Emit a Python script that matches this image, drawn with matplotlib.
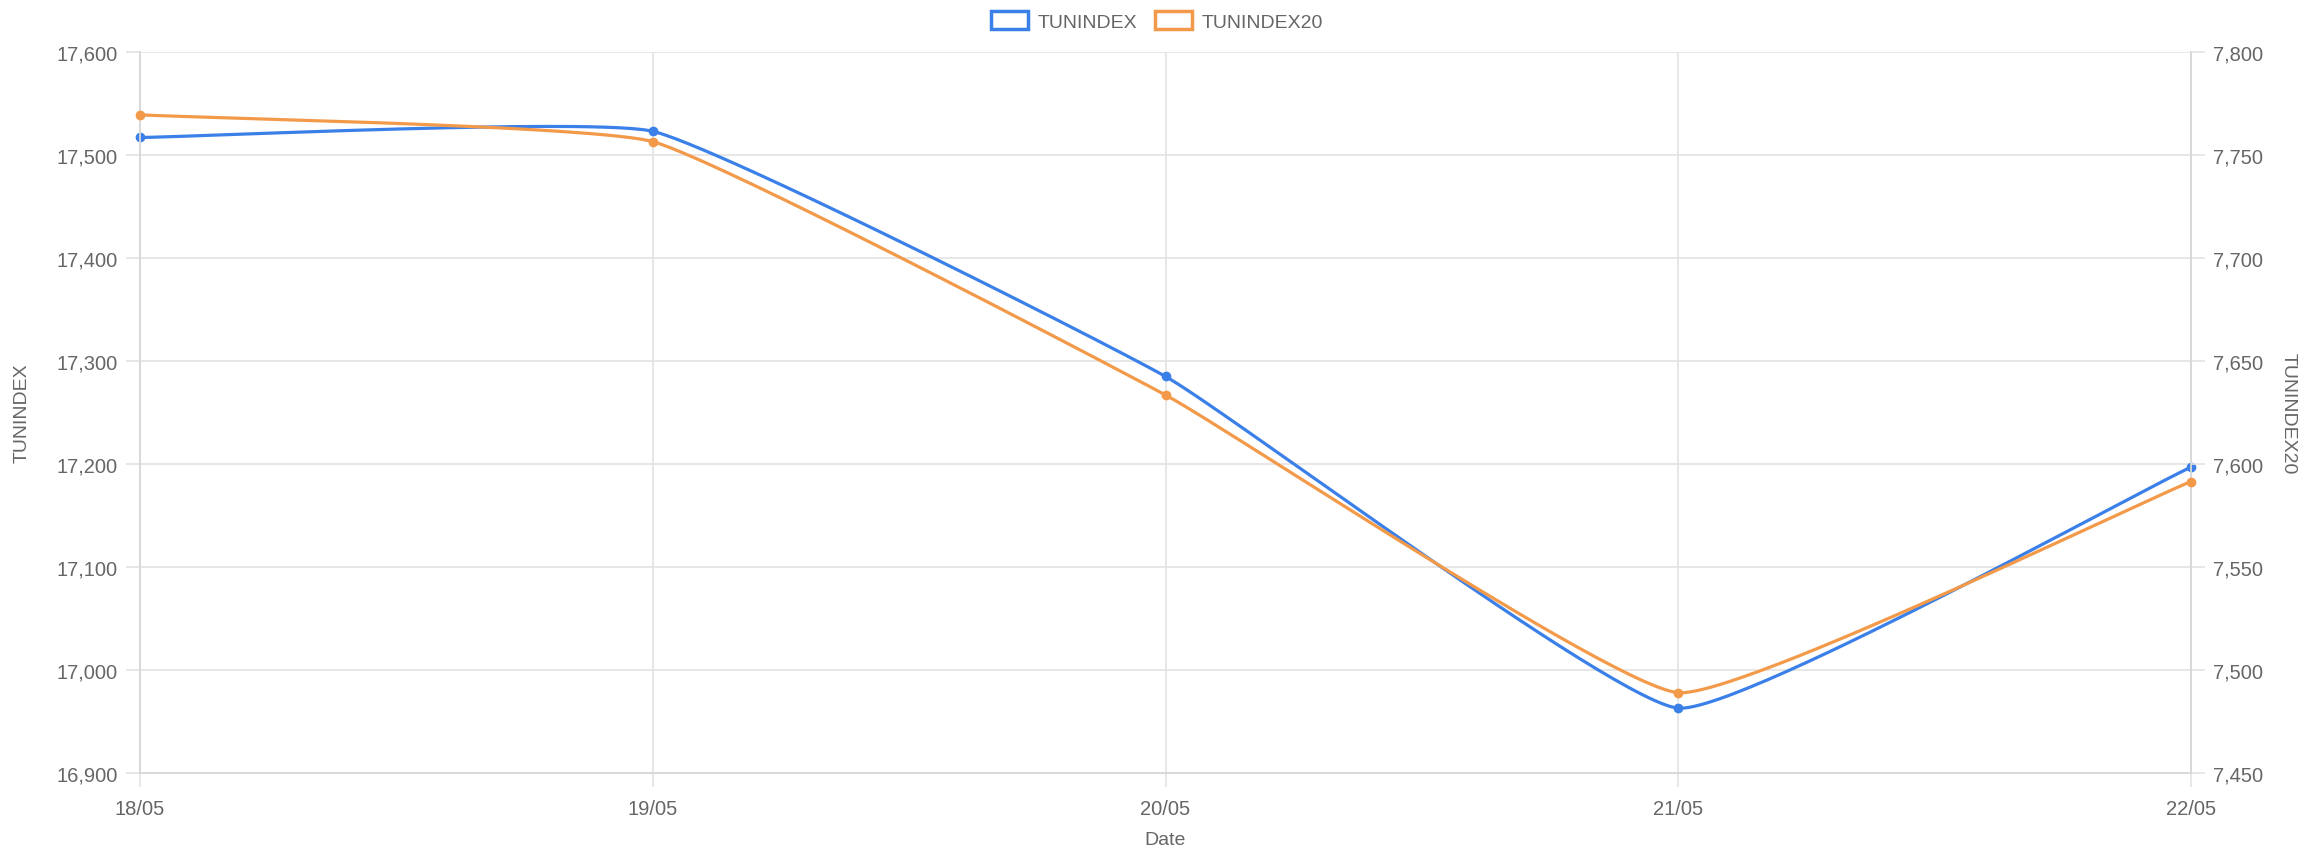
import matplotlib.pyplot as plt
import numpy as np
from matplotlib.patches import Patch

# Data
dates = ['18/05', '19/05', '20/05', '21/05', '22/05']
tunindex = [17517, 17523, 17285, 16963, 17197]
tunindex20 = [7769.5, 7756.5, 7633.5, 7489, 7591.5]

left_ticks = np.arange(16900, 17601, 100)
right_ticks = np.arange(7450, 7801, 50)

blue = '#3b80e8'
orange = '#f39a4a'
grid_c = '#e3e3e3'
text_c = '#666666'

plt.rcParams['font.family'] = ['Liberation Sans', 'DejaVu Sans']

fig = plt.figure(figsize=(23.14, 8.53), dpi=100)
ax = fig.add_axes([140 / 2314, 1 - 774 / 853, (2191 - 140) / 2314, (774 - 53) / 853])
ax2 = ax.twinx()

x = np.arange(len(dates))
ax.set_xlim(0, len(dates) - 1)
ax.set_ylim(16900, 17600)
ax2.set_ylim(7450, 7800)


def spline(axis, xs, ys, tension=0.12, n=60):
    # Chart.js style bezier, control points computed in pixel space
    pts = axis.transData.transform(np.column_stack([xs, ys]))
    m = len(pts)
    cp_prev = pts.copy()
    cp_next = pts.copy()
    for i in range(m):
        prev = pts[i - 1] if i > 0 else pts[i]
        nxt = pts[i + 1] if i < m - 1 else pts[i]
        d01 = np.hypot(*(pts[i] - prev))
        d12 = np.hypot(*(nxt - pts[i]))
        tot = d01 + d12
        s01 = d01 / tot if tot else 0
        s12 = d12 / tot if tot else 0
        cp_prev[i] = pts[i] - tension * s01 * (nxt - prev)
        cp_next[i] = pts[i] + tension * s12 * (nxt - prev)
    t = np.linspace(0, 1, n)[:, None]
    out = []
    for i in range(m - 1):
        p0, p1, p2, p3 = pts[i], cp_next[i], cp_prev[i + 1], pts[i + 1]
        seg = ((1 - t) ** 3) * p0 + 3 * ((1 - t) ** 2) * t * p1 + 3 * (1 - t) * t ** 2 * p2 + t ** 3 * p3
        out.append(seg)
    out = np.vstack(out)
    return axis.transData.inverted().transform(out)


c1 = spline(ax, x, tunindex)
c2 = spline(ax2, x, tunindex20)
ax.plot(c1[:, 0], c1[:, 1], color=blue, lw=2.3, zorder=3, clip_on=False)
ax.plot(x, tunindex, 'o', color=blue, ms=6, zorder=4, clip_on=False)
ax2.plot(c2[:, 0], c2[:, 1], color=orange, lw=2.3, zorder=3, clip_on=False)
ax2.plot(x, tunindex20, 'o', color=orange, ms=6, zorder=4, clip_on=False)

ax.set_xticks(x)
ax.set_xticklabels(dates)
ax.set_yticks(left_ticks)
ax.set_yticklabels([f'{v:,}' for v in left_ticks])
ax2.set_yticks(right_ticks)
ax2.set_yticklabels([f'{v:,}' for v in right_ticks])

ax.grid(True, color=grid_c, lw=1.2)
ax.set_axisbelow(True)
for a in (ax, ax2):
    for s in a.spines.values():
        s.set_color('#d9d9d9')
        s.set_linewidth(1.3)
    a.tick_params(colors=grid_c, labelcolor=text_c, labelsize=14.5, length=10, width=1.2, pad=6)
ax.tick_params(axis='x', pad=9)
ax.spines['top'].set_visible(False)
ax2.spines['top'].set_visible(False)

ax.set_xlabel('Date', fontsize=14, color=text_c, va='center')
ax.set_ylabel('TUNINDEX', fontsize=14, color=text_c, va='center')
ax2.set_ylabel('TUNINDEX20', fontsize=14, color=text_c, rotation=270, va='center')
ax.xaxis.set_label_coords(0.5, (774 - 841) / 721)
ax.yaxis.set_label_coords((22 - 140) / 2051, 0.5)
ax2.yaxis.set_label_coords((2288 - 140) / 2051, 0.5)

handles = [Patch(facecolor='white', edgecolor=blue, lw=2.5, label='TUNINDEX'),
           Patch(facecolor='white', edgecolor=orange, lw=2.5, label='TUNINDEX20')]
fig.legend(handles=handles, loc='center', bbox_to_anchor=(0.5, 1 - 22 / 853), ncol=2,
           frameon=False, fontsize=14, labelcolor=text_c, handlelength=1.9,
           handleheight=1.0, columnspacing=0.9, handletextpad=0.5)

plt.savefig('out.png', dpi=100)
